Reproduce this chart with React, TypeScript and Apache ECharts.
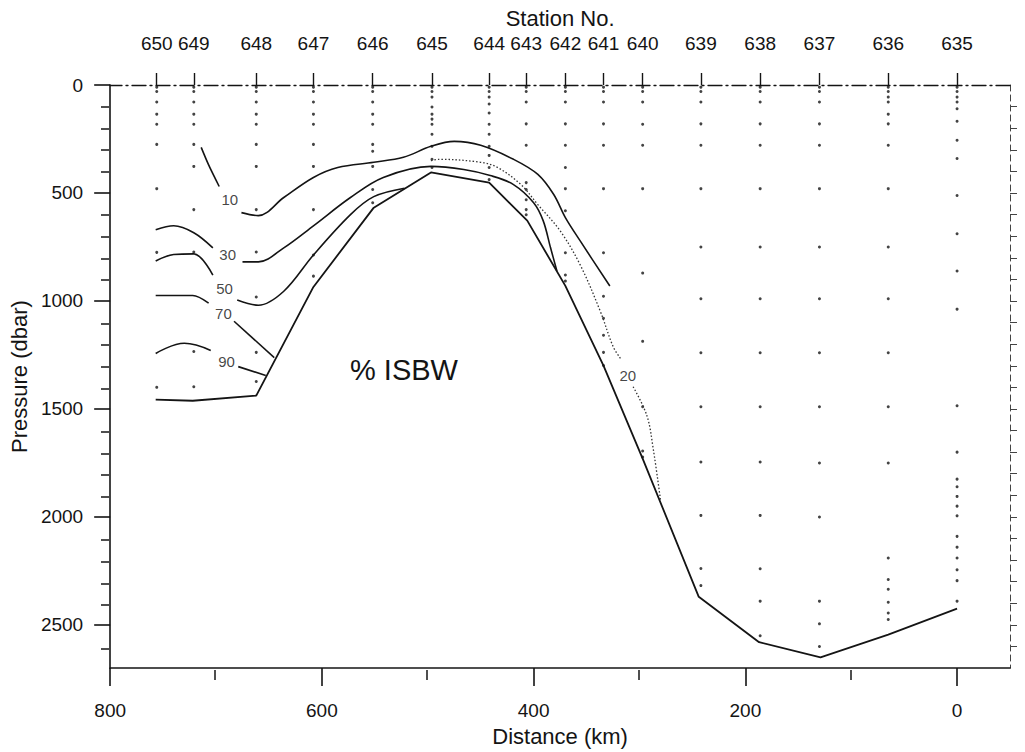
import React, { useEffect, useRef } from "react";
import * as echarts from "echarts";

// ---- axes / stations ----
const stationNo = ["650","649","648","647","646","645","644","643","642","641","640","639","638","637","636","635"];
const stationKm = [756, 721, 662, 608, 552, 496, 442, 407, 370, 334, 297, 242, 186, 130, 65, 0];
const kmTicks = [0, 200, 400, 600, 800];
const kmMinor = [100, 300, 500, 700];
const pTicks = [0, 500, 1000, 1500, 2000, 2500];
const pMinor = [100,200,300,400,600,700,800,900,1100,1200,1300,1400,1600,1700,1800,1900,2100,2200,2300,2400,2600];
const pAll = [100,200,300,400,500,600,700,800,900,1000,1100,1200,1300,1400,1500,1600,1700,1800,1900,2000,2100,2200,2300,2400,2500,2600];

// ---- sample (bottle) depths per station, dbar ----
const s650 = [10, 30, 79, 135, 182, 275, 480, 775, 1400];
const s649 = [10, 30, 79, 135, 182, 275, 377, 577, 773, 1234, 1397];
const s648 = [10, 30, 79, 135, 182, 275, 377, 577, 773, 982, 1238, 1373];
const s647 = [10, 30, 79, 135, 182, 275, 377, 577, 787, 885];
const s646 = [10, 30, 79, 135, 182, 275, 307, 377, 484, 545];
const s645 = [10, 30, 56, 102, 135, 158, 182, 228, 284, 344, 382];
const s644 = [10, 30, 56, 88, 130, 182, 228, 284, 326, 382, 438];
const s643 = [10, 30, 79, 180, 279, 452, 484, 531, 577, 601];
const s642 = [10, 30, 79, 180, 279, 382, 480, 582, 777, 880, 908];
const s641 = [10, 30, 79, 180, 279, 480, 777, 978, 1080, 1159, 1238, 1299];
const s640 = [10, 30, 79, 182, 279, 480, 871, 1187, 1490, 1695, 1723];
const s639 = [10, 30, 79, 180, 279, 480, 750, 990, 1240, 1490, 1746, 1993, 2239, 2318];
const s638 = [10, 30, 79, 180, 279, 480, 750, 990, 1240, 1490, 1746, 1993, 2240, 2390, 2550];
const s637 = [10, 30, 79, 180, 279, 480, 750, 990, 1240, 1490, 1750, 2000, 2390, 2495, 2600];
const s636 = [10, 30, 56, 79, 135, 180, 279, 480, 750, 990, 1240, 1490, 1750, 2190, 2290, 2335, 2395, 2445, 2475];
const s635 = [10, 30, 56, 79, 110, 168, 256, 340, 512, 689, 861, 1038, 1485, 1700, 1825, 1860, 1905, 1950, 1995, 2090, 2140, 2190, 2245, 2295, 2390];
const sampleLists = [s650, s649, s648, s647, s646, s645, s644, s643, s642, s641, s640, s639, s638, s637, s636, s635];

// ---- contour lines [km, dbar] ----
const c10a = [[714, 289], [707, 370], [697, 470]];
const c10b = [[676, 591], [660, 605], [636, 521], [608, 428], [585, 382], [551, 358], [523, 335], [497, 284], [475, 261], [450, 279], [419, 344], [396, 414], [381, 507], [370, 614], [356, 722], [328, 931]];
const c20a = [[497, 350], [489, 344], [450, 358], [434, 382], [412, 461], [396, 554], [375, 675], [356, 833], [337, 1048], [325, 1210], [318, 1266]];
const c20b = [[306, 1397], [293, 1531], [287, 1685], [280, 1927]];
const c30a = [[757, 670], [740, 652], [721, 684], [703, 754]];
const c30b = [[675, 819], [660, 819], [636, 754], [608, 652], [573, 521], [542, 428], [497, 377], [466, 391], [441, 419], [419, 461], [400, 545], [391, 628], [384, 754], [378, 861]];
const c50a = [[757, 815], [740, 785], [721, 782], [703, 880]];
const c50b = [[680, 996], [660, 1020], [636, 955], [608, 787], [573, 600], [551, 517], [522, 478]];
const c70a = [[757, 975], [722, 975], [707, 1010]];
const c70b = [[683, 1094], [645, 1262]];
const c90a = [[757, 1243], [730, 1196], [705, 1229]];
const c90b = [[679, 1304], [653, 1345]];
const bottomLine = [[757, 1457], [722, 1462], [662, 1438], [608, 935], [551, 568], [497, 405], [442, 452], [406, 628], [370, 930], [334, 1299], [297, 1730], [244, 2370], [187, 2580], [129, 2650], [65, 2545], [0, 2425]];

// ---- contour labels ----
const contourLabels = [
  { name: "10", value: [687, 531] },
  { name: "30", value: [689, 787] },
  { name: "50", value: [692, 940] },
  { name: "70", value: [693, 1057] },
  { name: "90", value: [690, 1280] },
  { name: "20", value: [311, 1345] },
];

const FONT = "'Liberation Sans', Arial, Helvetica, sans-serif";
const INK = "#141414";
const GRID = { left: 109, right: 15, top: 85, bottom: 82, containLabel: false };

export default function App() {
  const ref = useRef<HTMLDivElement>(null);
  useEffect(() => {
    if (!ref.current) return;
    const chart = echarts.init(ref.current, null, { renderer: "svg" });

    const samples: number[][] = [];
    sampleLists.forEach((lst, i) => lst.forEach((p) => samples.push([stationKm[i], p])));

    const lineSeries = (data: number[][], smooth: number | boolean, extra: any = {}) => ({
      type: "line",
      data,
      xAxisIndex: 0,
      yAxisIndex: 0,
      showSymbol: false,
      symbol: "none",
      smooth,
      silent: true,
      lineStyle: { color: INK, width: 1.6, ...extra },
      z: 3,
    });

    const option: any = {
      animation: false,
      backgroundColor: "#ffffff",
      textStyle: { fontFamily: FONT },
      grid: [GRID, { ...GRID }],
      xAxis: [
        {
          gridIndex: 0, type: "value", position: "bottom", min: -50, max: 800, inverse: true,
          name: "Distance (km)", nameLocation: "middle", nameGap: 54,
          nameTextStyle: { fontSize: 22, color: INK, fontFamily: FONT },
          axisLine: { show: true, onZero: false, lineStyle: { color: INK, width: 1.6 } },
          axisTick: { show: true, length: 18, customValues: kmTicks, lineStyle: { color: INK, width: 1.6 } },
          axisLabel: { show: true, customValues: kmTicks, fontSize: 19, color: INK, margin: 33, fontFamily: FONT },
          splitLine: { show: false },
        },
        {
          gridIndex: 0, type: "value", position: "top", min: -50, max: 800, inverse: true,
          name: "Station No.", nameLocation: "middle", nameGap: 50,
          nameTextStyle: { fontSize: 22, color: INK, fontFamily: FONT },
          axisLine: { show: true, onZero: false, lineStyle: { color: INK, width: 1.3, type: [14, 4, 2, 4] } },
          axisTick: { show: true, length: 12, customValues: stationKm, lineStyle: { color: INK, width: 1.4 } },
          axisLabel: {
            show: true, customValues: stationKm, fontSize: 19, color: INK, margin: 32, fontFamily: FONT,
            formatter: (v: number) => {
              const i = stationKm.findIndex((k) => Math.abs(k - v) < 0.5);
              return i >= 0 ? stationNo[i] : "";
            },
          },
          splitLine: { show: false },
        },
        {
          gridIndex: 1, type: "value", position: "bottom", min: -50, max: 800, inverse: true,
          axisLine: { show: false, onZero: false },
          axisTick: { show: true, length: 10, customValues: kmMinor, lineStyle: { color: INK, width: 1.5 } },
          axisLabel: { show: false },
          splitLine: { show: false },
        },
      ],
      yAxis: [
        {
          gridIndex: 0, type: "value", position: "left", min: 0, max: 2700, inverse: true,
          name: "Pressure (dbar)", nameLocation: "middle", nameGap: 76,
          nameTextStyle: { fontSize: 22, color: INK, fontFamily: FONT },
          axisLine: { show: true, onZero: false, lineStyle: { color: INK, width: 1.6 } },
          axisTick: { show: true, length: 16, customValues: pTicks, lineStyle: { color: INK, width: 1.6 } },
          axisLabel: {
            show: true, customValues: pTicks, fontSize: 19, color: INK, margin: 27, fontFamily: FONT,
            formatter: (v: number) => String(v),
          },
          splitLine: { show: false },
        },
        {
          gridIndex: 0, type: "value", position: "right", min: 0, max: 2700, inverse: true,
          axisLine: { show: true, onZero: false, lineStyle: { color: "#444", width: 1, type: [6, 4] } },
          axisTick: { show: true, length: 7, customValues: pAll, lineStyle: { color: "#444", width: 1 } },
          axisLabel: { show: false },
          splitLine: { show: false },
        },
        {
          gridIndex: 1, type: "value", position: "left", min: 0, max: 2700, inverse: true,
          axisLine: { show: false, onZero: false },
          axisTick: { show: true, length: 8, customValues: pMinor, lineStyle: { color: INK, width: 1.5 } },
          axisLabel: { show: false },
          splitLine: { show: false },
        },
      ],
      series: [
        {
          type: "scatter", name: "samples", data: samples, xAxisIndex: 0, yAxisIndex: 0,
          symbol: "circle", symbolSize: 3, itemStyle: { color: INK }, silent: true, z: 2,
        },
        lineSeries(c10a, 0.3),
        lineSeries(c10b, 0.35),
        lineSeries(c20a, 0.35, { type: [1.5, 2], width: 1.3, color: "#333" }),
        lineSeries(c20b, 0.35, { type: [1.5, 2], width: 1.3, color: "#333" }),
        lineSeries(c30a, 0.35),
        lineSeries(c30b, 0.35),
        lineSeries(c50a, 0.35),
        lineSeries(c50b, 0.35),
        lineSeries(c70a, 0.3),
        lineSeries(c70b, false),
        lineSeries(c90a, 0.4),
        lineSeries(c90b, false),
        lineSeries(bottomLine, false, { width: 1.8 }),
        {
          type: "scatter", name: "contour labels", data: contourLabels, xAxisIndex: 0, yAxisIndex: 0,
          symbol: "circle", symbolSize: 1, itemStyle: { color: "rgba(0,0,0,0)" }, silent: true, z: 5,
          label: { show: true, position: "inside", formatter: "{b}", fontSize: 15, color: INK, fontFamily: FONT },
        },
      ],
      graphic: [
        {
          type: "text", x: 404, y: 370, z: 10,
          style: { text: "% ISBW", font: `29px ${FONT}`, fill: INK, align: "center", verticalAlign: "middle" },
        },
      ],
    };
    chart.setOption(option);
    return () => chart.dispose();
  }, []);
  return <div ref={ref} style={{ position: "fixed", left: 0, top: 0, width: 1025, height: 752, background: "#fff" }} />;
}
